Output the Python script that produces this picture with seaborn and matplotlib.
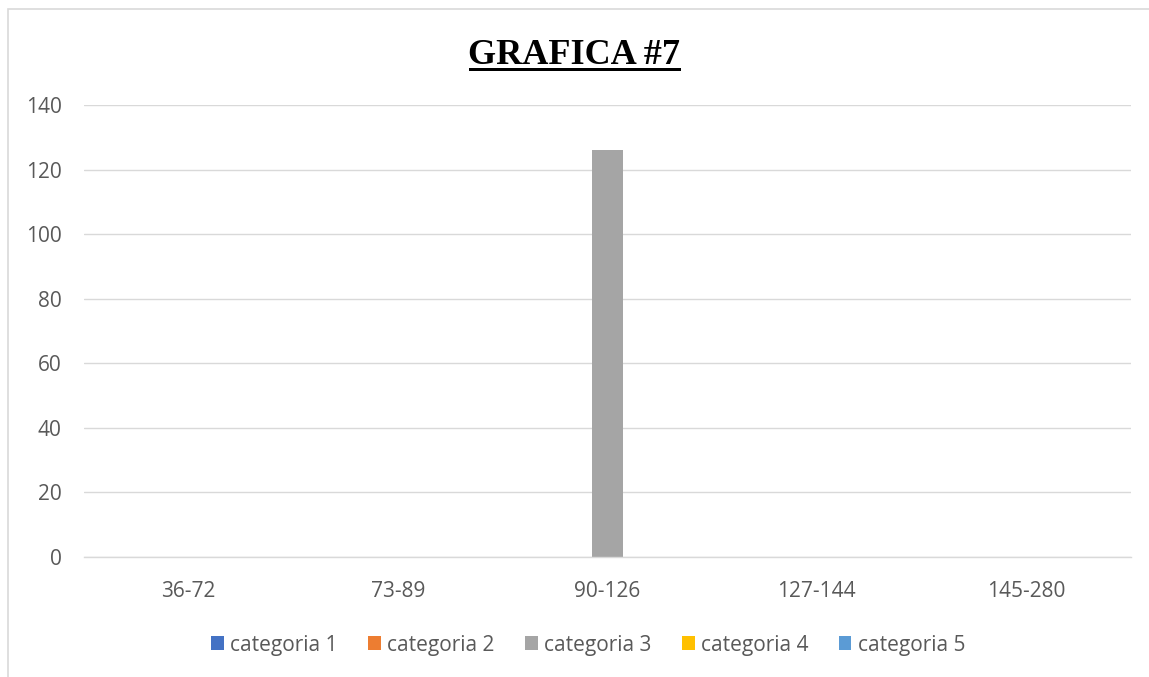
import matplotlib
matplotlib.use("Agg")
import matplotlib.pyplot as plt
import pandas as pd
import seaborn as sns
from matplotlib.patches import Rectangle

# data
groups = ["36-72", "73-89", "90-126", "127-144", "145-280"]
series = ["categoria 1", "categoria 2", "categoria 3", "categoria 4", "categoria 5"]
cat1 = [0, 0, 0, 0, 0]
cat2 = [0, 0, 0, 0, 0]
cat3 = [0, 0, 126, 0, 0]
cat4 = [0, 0, 0, 0, 0]
cat5 = [0, 0, 0, 0, 0]
colors = ["#4472C4", "#ED7D31", "#A5A5A5", "#FFC000", "#5B9BD5"]

rows = []
for name, vals in zip(series, [cat1, cat2, cat3, cat4, cat5]):
    for g, v in zip(groups, vals):
        rows.append({"grupo": g, "serie": name, "valor": v})
df = pd.DataFrame(rows)

sns.set_style("white")
plt.rcParams["font.family"] = ["Open Sans", "DejaVu Sans"]
text_color = "#595959"
grid_color = "#D9D9D9"

fig = plt.figure(figsize=(11.49, 6.77), dpi=100)
ax = fig.add_axes([0.0731, 0.1773, 0.9112, 0.6677])

sns.barplot(
    data=df, x="grupo", y="valor", hue="serie",
    order=groups, hue_order=series, palette=colors,
    width=0.76, linewidth=0, ax=ax, legend=False
)

ax.set_ylim(0, 140)
ax.set_yticks(range(0, 141, 20))
ax.set_xlim(-0.5, len(groups) - 0.5)
ax.yaxis.grid(True, color=grid_color, linewidth=1.0)
ax.set_axisbelow(True)
for s in ["top", "right", "left"]:
    ax.spines[s].set_visible(False)
ax.spines["bottom"].set_color(grid_color)
ax.spines["bottom"].set_linewidth(1.0)
ax.tick_params(axis="y", length=0, pad=16, labelsize=15, labelcolor=text_color)
ax.tick_params(axis="x", length=0, pad=17, labelsize=15, labelcolor=text_color)
ax.set_xlabel("")
ax.set_ylabel("")

# title, bold serif underlined
t = fig.text(0.5, 1 - 64 / 677, "GRAFICA #7", ha="center", va="baseline",
             fontsize=26, fontweight="bold", family="Liberation Serif", color="black")
fig.canvas.draw()
bb = t.get_window_extent()
fig.add_artist(Rectangle((bb.x0 / 1149, 1 - 71 / 677), bb.width / 1149, 3 / 677,
                         transform=fig.transFigure, color="black", lw=0))

# legend
handles = [Rectangle((0, 0), 1, 1, color=c, lw=0) for c in colors]
fig.legend(handles, series, loc="center", bbox_to_anchor=(0.512, 1 - 645 / 677),
           ncol=5, frameon=False, fontsize=15, labelcolor=text_color,
           handlelength=0.62, handleheight=0.62, handletextpad=0.3,
           columnspacing=1.45)

# chart area border (cropped at right and bottom)
fig.add_artist(Rectangle((8 / 1149, -0.1), 1.2, 1 - 9 / 677 + 0.1,
                         transform=fig.transFigure, fill=False,
                         edgecolor=grid_color, lw=1.2))

fig.savefig("out.png", dpi=100)
